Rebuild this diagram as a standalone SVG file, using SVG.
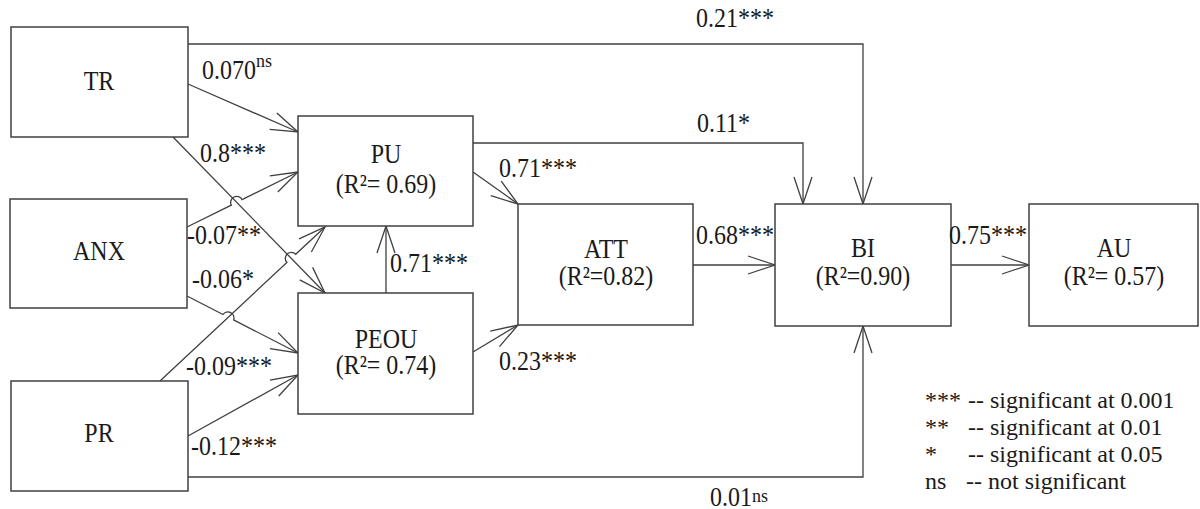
<svg xmlns="http://www.w3.org/2000/svg" width="1200" height="509" viewBox="0 0 1200 509">
<style>
.box{fill:#fff;stroke:#404040;stroke-width:1.5}
.ln{fill:none;stroke:#404040;stroke-width:1.3}
.ar{marker-end:url(#arr)}
text{font-family:"Liberation Serif","Times New Roman",serif;font-size:24px;fill:#1a1a1a}
.c{text-anchor:middle}
.sup{font-size:18px}
</style>
<defs>
<marker id="arr" markerUnits="userSpaceOnUse" markerWidth="40" markerHeight="30" viewBox="-30 -15 40 30" refX="0" refY="0" orient="auto" overflow="visible">
<path d="M-27,-9 L0,0 L-27,9" fill="none" stroke="#404040" stroke-width="1.3"/>
</marker>
</defs>
<rect width="1200" height="509" fill="#fff"/>
<g id="connectors">
<path class="ln ar" d="M188,44 H863 V204"/>
<path class="ln ar" d="M473,143 H803 V204"/>
<path class="ln ar" d="M188,477 H863 V326"/>
<path class="ln ar" d="M693,265 H775"/>
<path class="ln ar" d="M951,265 H1029"/>
<path class="ln ar" d="M473,172 L518,204"/>
<path class="ln ar" d="M473,352 L518,325"/>
<path class="ln ar" d="M386,293 V226"/>
<path class="ln ar" d="M188,84 L298,132"/>
<path class="ln ar" d="M173,137 L325,293"/>
<path class="ln ar" d="M187,227 L231.3,205.1 A6,6 0 0 1 242.1,199.7 L298,172"/>
<path class="ln ar" d="M187,296 L223,314.5 A6,6 0 0 1 233.6,319.9 L298,353"/>
<path class="ln ar" d="M160,381 L286.9,262.5 A6,6 0 0 1 295.7,254.3 L325,227"/>
<path class="ln ar" d="M188,436 L298,375"/>
</g>
<g id="TR"><rect class="box" x="11" y="27" width="177" height="110"/><text class="c" transform="scale(1,1.1)" x="99" y="81.82">TR</text></g>
<g id="ANX"><rect class="box" x="10" y="199" width="177" height="109"/><text class="c" transform="scale(1,1.1)" x="99" y="236.36">ANX</text></g>
<g id="PR"><rect class="box" x="11" y="381" width="177" height="110"/><text class="c" transform="scale(1,1.1)" x="99" y="401.82">PR</text></g>
<g id="PU"><rect class="box" x="298" y="116" width="175" height="110"/><text class="c" transform="scale(1,1.1)" x="386" y="148.18">PU</text><text class="c" transform="scale(1,1.1)" x="386" y="175.45">(R²= 0.69)</text></g>
<g id="PEOU"><rect class="box" x="298" y="293" width="175" height="121"/><text class="c" transform="scale(1,1.1)" x="386" y="316.36">PEOU</text><text class="c" transform="scale(1,1.1)" x="386" y="340">(R²= 0.74)</text></g>
<g id="ATT"><rect class="box" x="518" y="204" width="175" height="121"/><text class="c" transform="scale(1,1.1)" x="606" y="234.55">ATT</text><text class="c" transform="scale(1,1.1)" x="606" y="259.09">(R²=0.82)</text></g>
<g id="BI"><rect class="box" x="775" y="204" width="176" height="122"/><text class="c" transform="scale(1,1.1)" x="863" y="233.64">BI</text><text class="c" transform="scale(1,1.1)" x="863" y="259.09">(R²=0.90)</text></g>
<g id="AU"><rect class="box" x="1029" y="204" width="169" height="122"/><text class="c" transform="scale(1,1.1)" x="1114" y="233.64">AU</text><text class="c" transform="scale(1,1.1)" x="1114" y="259.09">(R²= 0.57)</text></g>
<g id="labels" transform="scale(1,1.1)">
<text x="696" y="24.55">0.21***</text>
<text x="202" y="71.82">0.070<tspan class="sup" dy="-10.9">ns</tspan></text>
<text x="200" y="147.27">0.8***</text>
<text x="697" y="120">0.11*</text>
<text x="499" y="160.91">0.71***</text>
<text x="390" y="247.27">0.71***</text>
<text x="696" y="221.82">0.68***</text>
<text x="499" y="336.36">0.23***</text>
<text x="949" y="221.82">0.75***</text>
<text x="187" y="221.82">-0.07**</text>
<text x="192" y="261.82">-0.06*</text>
<text x="186" y="340.91">-0.09***</text>
<text x="191" y="413.64">-0.12***</text>
<text x="710" y="460">0.01<tspan class="sup" dy="-3.6">ns</tspan></text>
</g>
<g id="legend">
<text x="925" y="408">***</text><text x="968" y="408">-- significant at 0.001</text>
<text x="925" y="435">**</text><text x="968" y="435">-- significant at 0.01</text>
<text x="925" y="462">*</text><text x="968" y="462">-- significant at 0.05</text>
<text x="925" y="489">ns</text><text x="966" y="489">-- not significant</text>
</g>
</svg>
